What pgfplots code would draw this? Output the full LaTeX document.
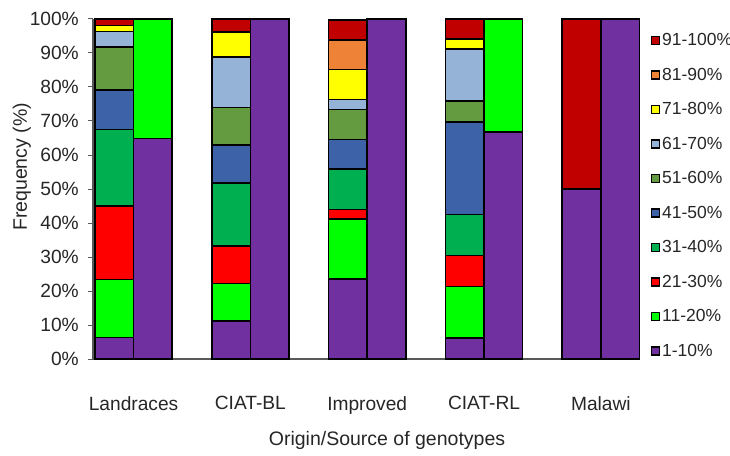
\documentclass[border=0pt]{standalone}
\usepackage{pgfplots}
\usepackage{pgfplotstable}
\pgfplotsset{compat=1.18}
\usepackage{fontspec}
\setmainfont{Liberation Sans}
\definecolor{c1}{HTML}{7030A0}
\definecolor{c2}{HTML}{00FF00}
\definecolor{c3}{HTML}{FF0000}
\definecolor{c4}{HTML}{00B050}
\definecolor{c5}{HTML}{3D62A8}
\definecolor{c6}{HTML}{649A40}
\definecolor{c7}{HTML}{95B3D7}
\definecolor{c8}{HTML}{FFFF00}
\definecolor{c9}{HTML}{EE8236}
\definecolor{c10}{HTML}{C00000}
\pgfplotstableread{
x a b c d e f g h i j
-0.165 6.3 17.1 21.6 22.5 11.7 12.6 4.5 1.8 0 1.9
0.165 64.9 35.1 0 0 0 0 0 0 0 0
0.835 11.1 11.1 11.1 18.5 11.1 11.1 14.8 7.4 0 3.8
1.165 100 0 0 0 0 0 0 0 0 0
1.835 23.5 17.6 2.9 11.8 8.8 8.8 2.9 8.8 8.8 5.9
2.165 100 0 0 0 0 0 0 0 0 0
2.835 6.1 15.2 9.1 12.1 27.3 6.1 15.2 3.0 0 5.9
3.165 66.7 33.3 0 0 0 0 0 0 0 0
3.835 50 0 0 0 0 0 0 0 0 50
4.165 100 0 0 0 0 0 0 0 0 0
}\data
\begin{document}
\begin{tikzpicture}
\useasboundingbox (-55.8pt,-57.6pt) rectangle (382.2pt,215.4pt);
\begin{axis}[
  scale only axis, width=328.2pt, height=204pt,
  ybar stacked, bar width=0.33,
  xmin=-0.347, xmax=4.335, ymin=0, ymax=100,
  axis x line*=bottom, axis y line*=left,
  axis line style={black!65, line width=0.8pt},
  xtick={0,1,2,3,4},
  xticklabels={Landraces,CIAT-BL,Improved,CIAT-RL,Malawi},
  x tick style={draw=none},
  ytick={0,10,...,100},
  yticklabels={0\%,10\%,20\%,30\%,40\%,50\%,60\%,70\%,80\%,90\%,100\%},
  tick align=outside, major tick length=3pt,
  y tick style={black!65, line width=0.6pt},
  tick label style={font=\fontsize{11.5}{13}\selectfont, text=black!85},
  xticklabel style={yshift=-16pt},
  yticklabel style={xshift=-2pt},
  xlabel={Origin/Source of genotypes},
  ylabel={Frequency (\%)},
  label style={font=\fontsize{11.7}{14}\selectfont, text=black!85},
  xlabel style={at={(axis description cs:0.5375,-0.195)}, anchor=north},
  ylabel style={at={(axis description cs:-0.13,0.565)}, anchor=center},
  every axis plot/.append style={draw=black, line width=1pt},
  legend image code/.code={\draw[#1,draw=black,line width=0.7pt] (0pt,-2.4pt) rectangle (4.8pt,2.4pt);},
  reverse legend,
  legend cell align=left,
  legend style={at={(axis description cs:1.02,0.967)}, anchor=north west, draw=none, fill=none,
    inner sep=0pt, row sep=8.7pt, column sep=0pt,
    font=\fontsize{10.5}{12}\selectfont,
    nodes={text height=8pt, text depth=2pt, inner sep=1pt, text=black!85}},
]
\addplot[fill=c1] table[x=x,y=a]{\data};
\addplot[fill=c2] table[x=x,y=b]{\data};
\addplot[fill=c3] table[x=x,y=c]{\data};
\addplot[fill=c4] table[x=x,y=d]{\data};
\addplot[fill=c5] table[x=x,y=e]{\data};
\addplot[fill=c6] table[x=x,y=f]{\data};
\addplot[fill=c7] table[x=x,y=g]{\data};
\addplot[fill=c8] table[x=x,y=h]{\data};
\addplot[fill=c9] table[x=x,y=i]{\data};
\addplot[fill=c10] table[x=x,y=j]{\data};
\legend{1-10\%,11-20\%,21-30\%,31-40\%,41-50\%,51-60\%,61-70\%,71-80\%,81-90\%,91-100\%}
\end{axis}
\end{tikzpicture}
\end{document}
